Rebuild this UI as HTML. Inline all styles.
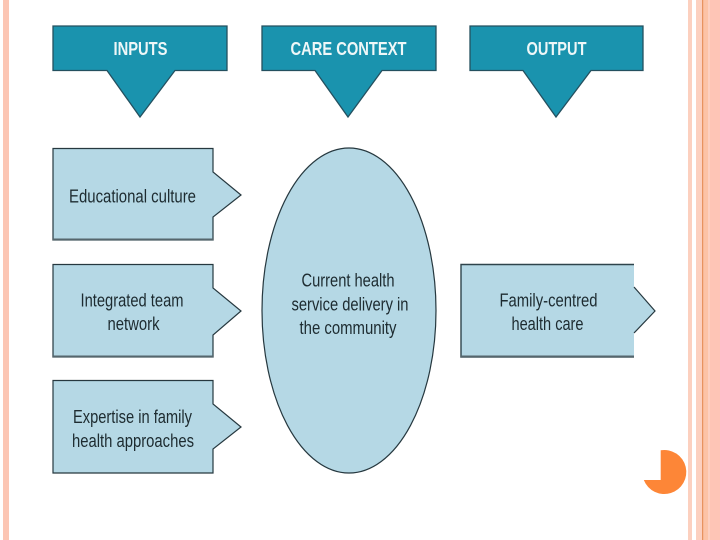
<!DOCTYPE html>
<html>
<head>
<meta charset="utf-8">
<style>
html,body{margin:0;padding:0;background:#fff;width:720px;height:540px;overflow:hidden}
svg{display:block}
text{font-family:"Liberation Sans",sans-serif;text-anchor:middle}
.h{fill:#eef7f8;font-size:18px;font-weight:bold}
.t{fill:#1d2b30;font-size:18px}
</style>
</head>
<body>
<svg width="720" height="540" viewBox="0 0 720 540" xmlns="http://www.w3.org/2000/svg">
<rect x="3" y="0" width="6" height="540" fill="#fcc6b4"/>
<rect x="688" y="0" width="4" height="540" fill="#fcd0bf"/>
<rect x="696" y="0" width="6" height="540" fill="#fcd0bf"/>
<rect x="702" y="0" width="1.4" height="540" fill="#e8935f"/>
<rect x="703.4" y="0" width="4.6" height="540" fill="#fcc3a6"/>
<rect x="708" y="0" width="2" height="540" fill="#fdd0c0"/>
<rect x="710" y="0" width="10" height="540" fill="#fec5b6"/>

<g fill="#1a93ae" stroke="#24505f" stroke-width="1.3" stroke-linejoin="miter">
<path d="M53 26H227V70.500H175L140 117L107 70.500H53Z"/>
<path d="M262 26H436V70.500H382L348 117L315 70.500H262Z"/>
<path d="M470 26H643V70.500H591L556 117L523 70.500H470Z"/>
</g>
<g fill="#b5d8e5" stroke="#26383f" stroke-width="1.2">
<path d="M53 148.500H213V172L241 195L213 217V240H53Z"/>
<path d="M53 264.500H213V288L241 311L213 335V357H53Z"/>
<path d="M53 380.500H213V404L241 427L213 449V473H53Z"/>
<ellipse cx="349" cy="310.500" rx="87" ry="162.500"/>
</g>
<path d="M634 264.500H461V357H634Z" fill="#b5d8e5"/>
<path d="M634 264.500H461V357H634" fill="none" stroke="#2f444c" stroke-width="1.4"/>
<path d="M634 287L655 311L634 333Z" fill="#b5d8e5"/>
<path d="M634 287L655 311L634 333" fill="none" stroke="#26383f" stroke-width="1.2"/>
<path d="M53 239.500H213M53 356.500H213M461 356.500H634" stroke="#55666d" stroke-width="2"/>

<text class="h" x="140.500" y="55" textLength="54" lengthAdjust="spacingAndGlyphs">INPUTS</text>
<text class="h" x="348.500" y="55" textLength="116" lengthAdjust="spacingAndGlyphs">CARE CONTEXT</text>
<text class="h" x="556.500" y="55" textLength="60" lengthAdjust="spacingAndGlyphs">OUTPUT</text>

<text class="t" x="132.500" y="202.500" textLength="127" lengthAdjust="spacingAndGlyphs">Educational culture</text>
<text class="t" x="132" y="306.500" textLength="103" lengthAdjust="spacingAndGlyphs">Integrated team</text>
<text class="t" x="133.500" y="330" textLength="52" lengthAdjust="spacingAndGlyphs">network</text>
<text class="t" x="132.500" y="423" textLength="119" lengthAdjust="spacingAndGlyphs">Expertise in family</text>
<text class="t" x="133" y="447" textLength="122" lengthAdjust="spacingAndGlyphs">health approaches</text>
<text class="t" x="348" y="286.500" textLength="93" lengthAdjust="spacingAndGlyphs">Current health</text>
<text class="t" x="350" y="310.500" textLength="117" lengthAdjust="spacingAndGlyphs">service delivery in</text>
<text class="t" x="348" y="334" textLength="97" lengthAdjust="spacingAndGlyphs">the community</text>
<text class="t" x="548.500" y="306.500" textLength="98" lengthAdjust="spacingAndGlyphs">Family-centred</text>
<text class="t" x="547.500" y="330" textLength="72" lengthAdjust="spacingAndGlyphs">health care</text>

<path d="M660.700 450.300A22 22 0 1 1 643.800 480H660.700Z" fill="#fd8637"/>
</svg>
</body>
</html>
